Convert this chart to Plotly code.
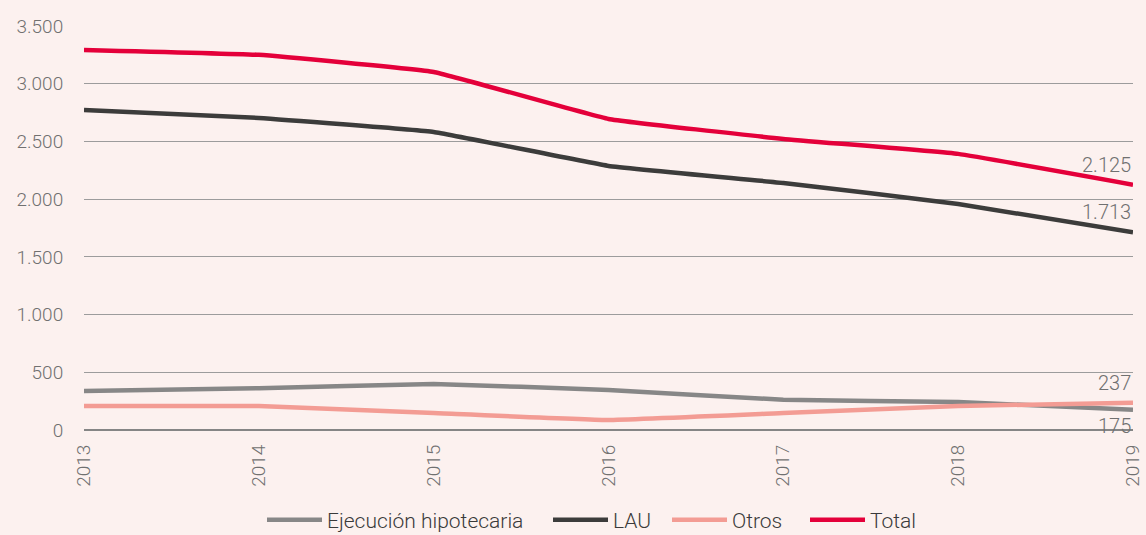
import plotly.graph_objects as go

years = [2013, 2014, 2015, 2016, 2017, 2018, 2019]
ejecucion = [338, 362, 398, 347, 262, 243, 175]
lau = [2773, 2704, 2582, 2288, 2140, 1958, 1713]
otros = [208, 208, 147, 87, 147, 208, 237]
total = [3293, 3250, 3102, 2695, 2522, 2392, 2125]

series = [
    ("Ejecución hipotecaria", ejecucion, "#878787"),
    ("LAU", lau, "#3c3c3b"),
    ("Otros", otros, "#f39c94"),
    ("Total", total, "#e4003a"),
]
legend_ids = ["legend", "legend2", "legend3", "legend4"]
legend_left_px = [262, 548, 667, 805]

bg = "#fcf1ef"
fig = go.Figure()
for (name, vals, col), lid in zip(series, legend_ids):
    fig.add_trace(go.Scatter(
        x=years, y=vals, name=name, mode="lines", legend=lid,
        line=dict(color=col, width=4.5, shape="spline", smoothing=0.25),
    ))

def fmt(v):
    return f"{v:,}".replace(",", ".")

label_pos = {"Ejecución hipotecaria": "bottom", "LAU": "top", "Otros": "top", "Total": "top"}
for name, vals, col in series:
    pos = label_pos[name]
    fig.add_annotation(
        x=years[-1], y=vals[-1], text=fmt(vals[-1]), showarrow=False,
        xanchor="right", yanchor="bottom" if pos == "top" else "top",
        yshift=6 if pos == "top" else -2,
        font=dict(family="Roboto", size=20, color="#707070", weight=300),
    )

W, H = 1146, 535
legend_layout = {}
for lid, px in zip(legend_ids, legend_left_px):
    legend_layout[lid] = dict(
        orientation="h", xref="container", x=px / W, xanchor="left",
        yref="container", y=0.028, yanchor="middle",
        font=dict(family="Roboto", size=21, color="#3a3a3a", weight=300),
        itemwidth=55, bgcolor="rgba(0,0,0,0)",
    )

fig.update_layout(
    width=W, height=H,
    paper_bgcolor=bg, plot_bgcolor=bg,
    margin=dict(l=84, r=13, t=26, b=105, autoexpand=False),
    separators=",.",
    font=dict(family="Roboto", size=18, color="#707070", weight=300),
    showlegend=True,
    **legend_layout,
    xaxis=dict(range=[2013, 2019], tickmode="array", tickvals=years,
               ticktext=[str(y) for y in years], tickangle=-90,
               showgrid=False, zeroline=False, showline=False,
               ticks="outside", ticklen=6, tickcolor="rgba(0,0,0,0)",
               tickfont=dict(size=19, color="#707070")),
    yaxis=dict(range=[0, 3500], tickvals=[0, 500, 1000, 1500, 2000, 2500, 3000, 3500],
               tickformat=",d", showgrid=True, gridcolor="#9c9c9c", gridwidth=1,
               zeroline=True, zerolinecolor="#858585", zerolinewidth=2,
               showline=False, ticks="outside", ticklen=16, tickcolor="rgba(0,0,0,0)",
               tickfont=dict(size=19, color="#707070")),
)

fig.write_html(
    "out.html",
    config={"displayModeBar": False},
    post_script="document.body.style.margin='0';document.body.style.padding='0';"
                "document.body.style.overflow='hidden';document.body.style.background='" + bg + "';",
)
